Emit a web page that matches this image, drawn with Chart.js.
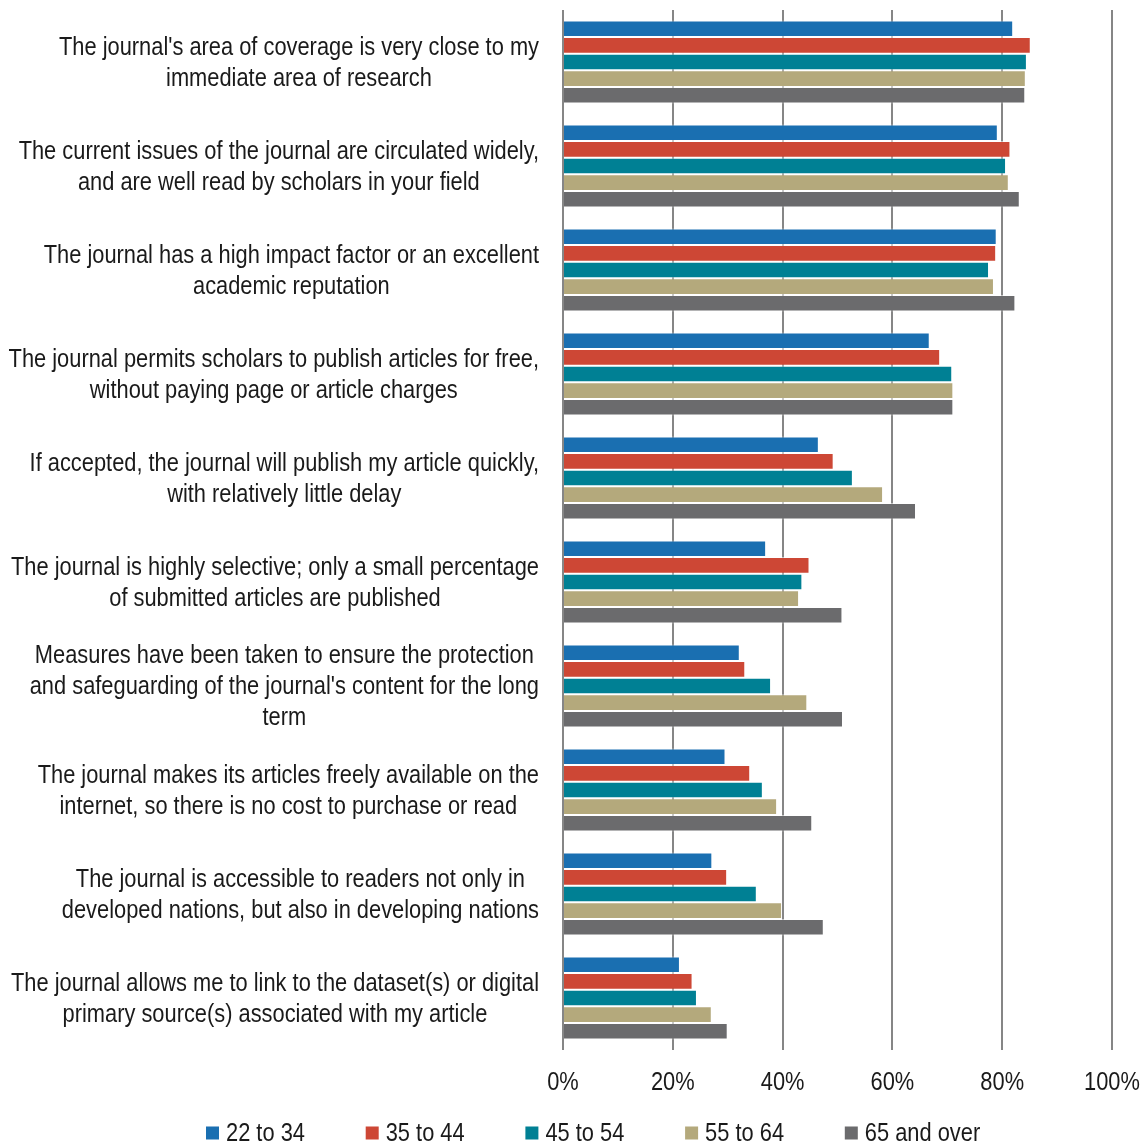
<!DOCTYPE html>
<html><head><meta charset="utf-8">
<script src="https://cdn.jsdelivr.net/npm/chart.js@4.4.0/dist/chart.umd.min.js"></script>
<style>html,body{margin:0;padding:0;background:#fff}#wrap{width:1144px;height:1146px;position:relative}</style>
</head><body><div id="wrap"><canvas id="c" width="1144" height="1146"></canvas></div>
<script>
const categories = [
  ["The journal's area of coverage is very close to my", "immediate area of research"],
  ["The current issues of the journal are circulated widely,", "and are well read by scholars in your field"],
  ["The journal has a high impact factor or an excellent", "academic reputation"],
  ["The journal permits scholars to publish articles for free,", "without paying page or article charges"],
  ["If accepted, the journal will publish my article quickly,", "with relatively little delay"],
  ["The journal is highly selective; only a small percentage", "of submitted articles are published"],
  ["Measures have been taken to ensure the protection", "and safeguarding of the journal's content for the long", "term"],
  ["The journal makes its articles freely available on the", "internet, so there is no cost to purchase or read"],
  ["The journal is accessible to readers not only in", "developed nations, but also in developing nations"],
  ["The journal allows me to link to the dataset(s) or digital", "primary source(s) associated with my article"]
];
const seriesNames = ["22 to 34", "35 to 44", "45 to 54", "55 to 64", "65 and over"];
const age22to34 = [82.0, 79.2, 79.0, 66.8, 46.6, 37.0, 32.2, 29.6, 27.2, 21.3];
const age35to44 = [85.2, 81.5, 78.9, 68.7, 49.3, 44.9, 33.2, 34.1, 29.9, 23.6];
const age45to54 = [84.5, 80.7, 77.6, 70.9, 52.8, 43.6, 37.9, 36.4, 35.3, 24.4];
const age55to64 = [84.3, 81.2, 78.5, 71.1, 58.3, 43.0, 44.5, 39.0, 39.9, 27.1];
const age65over = [84.2, 83.2, 82.4, 71.1, 64.3, 50.9, 51.0, 45.4, 47.5, 30.0];
const xTickValues = [0, 20, 40, 60, 80, 100];
const seriesColors = ["#1a6fb1", "#cd4735", "#008094", "#b4a97c", "#6b6b6d"];

const FONT_FAMILY = '"Liberation Sans", Arial, sans-serif';
const FONT_SIZE = 26;
const NARROW = 0.84;   // horizontal condensing to mimic a narrow typeface
const TEXT_COLOR = "#1a1a1a";
const LINE_H = 31;

const seriesData = [age22to34, age35to44, age45to54, age55to64, age65over];

function narrowText(ctx, text, x, y, align) {
  const w = ctx.measureText(text).width * NARROW;
  let left = x;
  if (align === "center") left = x - w / 2;
  else if (align === "right") left = x - w;
  ctx.save();
  ctx.translate(left, y);
  ctx.scale(NARROW, 1);
  ctx.textAlign = "left";
  ctx.fillText(text, 0, 0);
  ctx.restore();
  return w;
}

const labelPlugin = {
  id: "customLabels",
  afterDraw(chart) {
    const ctx = chart.ctx;
    const ys = chart.scales.y;
    const xs = chart.scales.x;
    ctx.save();
    ctx.font = FONT_SIZE + "px " + FONT_FAMILY;
    ctx.fillStyle = TEXT_COLOR;
    ctx.textBaseline = "middle";
    // category labels: right-aligned block, lines centred within block
    const rightEdge = ys.right - 24;
    categories.forEach((lines, i) => {
      const y = ys.getPixelForValue(i) + 1;
      const w = Math.max(...lines.map(l => ctx.measureText(l).width * NARROW));
      const cx = rightEdge - w / 2;
      lines.forEach((l, k) => narrowText(ctx, l, cx, y + (k - (lines.length - 1) / 2) * LINE_H, "center"));
    });
    // x tick labels from the scale
    xs.ticks.forEach(t => {
      narrowText(ctx, t.value + "%", xs.getPixelForValue(t.value), xs.top + 33, "center");
    });
    // legend
    const legY = chart.height - 13;
    const x0 = 206, step = 159.7, box = 13;
    seriesNames.forEach((name, i) => {
      const x = x0 + i * step;
      ctx.fillStyle = seriesColors[i];
      ctx.fillRect(x, legY - box / 2, box, box);
      ctx.fillStyle = TEXT_COLOR;
      narrowText(ctx, name, x + 20, legY + 1, "left");
    });
    ctx.restore();
  }
};

new Chart(document.getElementById("c"), {
  type: "bar",
  data: {
    labels: categories,
    datasets: seriesNames.map((n, i) => ({
      label: n,
      data: seriesData[i],
      backgroundColor: seriesColors[i],
      borderColor: "rgba(255,255,255,0.55)",
      borderWidth: 1,
      categoryPercentage: 0.8,
      barPercentage: 1.0
    }))
  },
  options: {
    indexAxis: "y",
    responsive: false,
    animation: false,
    devicePixelRatio: 1,
    layout: { padding: { top: 10, right: 32, bottom: 50, left: 0 } },
    plugins: { legend: { display: false }, tooltip: { enabled: false } },
    scales: {
      x: {
        min: 0, max: 100,
        afterBuildTicks: s => { s.ticks = xTickValues.map(v => ({ value: v })); },
        ticks: { display: false },
        grid: { color: "#868686", lineWidth: 2, drawTicks: false },
        border: { display: false },
        afterFit: s => { s.height = 46; s.paddingLeft = 0; s.paddingRight = 0; }
      },
      y: {
        ticks: { display: false },
        grid: { display: false },
        border: { display: false },
        afterFit: s => { s.width = 563; }
      }
    }
  },
  plugins: [labelPlugin]
});
</script>
</body></html>
